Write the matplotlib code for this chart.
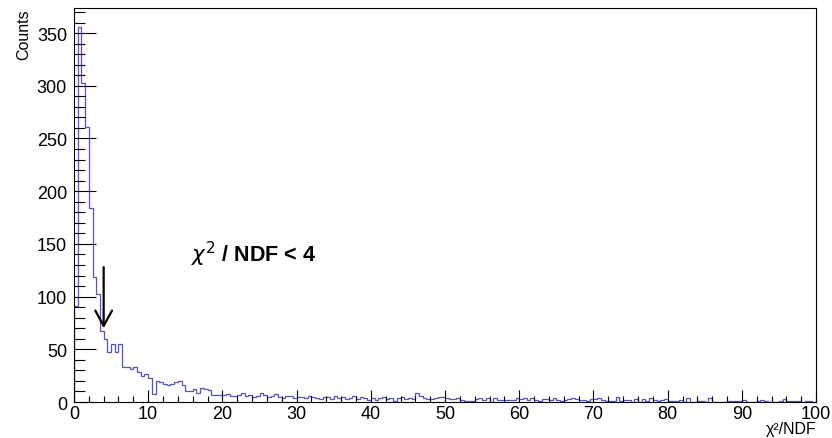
import numpy as np
import matplotlib
matplotlib.use('AGG')
import matplotlib.pyplot as plt

plt.rcParams['font.family'] = ['Liberation Sans', 'DejaVu Sans']
plt.rcParams['mathtext.fontset'] = 'dejavusans'

# chi2/NDF histogram, 200 bins from 0 to 100 (bin width 0.5)
x_min, x_max, n_bins = 0, 100, 200
counts = [
    # 0 - 10
    91, 356, 303, 261, 184, 119, 102, 67, 60, 47, 55, 47, 55, 33, 33, 31, 33, 28, 25, 27,
    # 10 - 20
    23, 8, 20, 19, 17, 16, 17, 19, 20, 16, 10, 10, 12, 9, 13, 12, 11, 7, 7, 7,
    # 20 - 30
    7, 8, 6, 6, 7, 9, 6, 7, 5, 6, 9, 7, 5, 6, 8, 5, 4, 6, 6, 4,
    # 30 - 40
    5, 5, 4, 6, 5, 4, 3, 5, 5, 3, 6, 4, 5, 3, 4, 6, 3, 5, 4, 2,
    # 40 - 50
    4, 2, 4, 5, 3, 4, 1, 4, 5, 3, 4, 3, 9, 6, 4, 3, 3, 4, 5, 5,
    # 50 - 60
    4, 3, 3, 4, 2, 1, 1, 1, 3, 4, 2, 4, 0, 4, 2, 2, 2, 2, 2, 4,
    # 60 - 70
    3, 4, 2, 4, 2, 1, 3, 3, 2, 4, 2, 1, 2, 3, 4, 3, 2, 2, 1, 3,
    # 70 - 80
    3, 4, 2, 1, 1, 1, 5, 1, 2, 2, 0, 3, 0, 3, 1, 4, 2, 1, 2, 3,
    # 80 - 90
    1, 1, 1, 2, 0, 4, 0, 0, 1, 1, 0, 4, 0, 0, 0, 0, 1, 1, 1, 1,
    # 90 - 100
    2, 0, 0, 0, 1, 2, 1, 0, 0, 0, 1, 3, 1, 1, 1, 1, 0, 1, 1, 0,
]
x_ticks = [0, 10, 20, 30, 40, 50, 60, 70, 80, 90, 100]
y_ticks = [0, 50, 100, 150, 200, 250, 300, 350]
cut_value = 4
arrow_top, arrow_tip = 128, 70

edges = np.linspace(x_min, x_max, n_bins + 1)
y_max = 1.05 * max(counts)

fig = plt.figure(figsize=(8.32, 4.39), dpi=100)
ax = fig.add_axes([0.0889, 0.082, 0.892, 0.8975])

ax.stairs(counts, edges, color='#5252cc', linewidth=0.9)

ax.set_xlim(x_min, x_max)
ax.set_ylim(0, y_max)
ax.set_xticks(x_ticks)
ax.set_xticks(np.arange(0, 101, 2), minor=True)
ax.set_yticks(y_ticks)
ax.set_yticks(np.arange(0, 371, 10), minor=True)

ax.tick_params(axis='x', which='major', direction='in', length=8.6, width=0.8, labelsize=13, pad=2)
ax.tick_params(axis='x', which='minor', direction='in', length=4.3, width=0.8)
ax.tick_params(axis='y', which='major', direction='in', length=15.8, width=0.8, labelsize=13, pad=5)
ax.tick_params(axis='y', which='minor', direction='in', length=8, width=0.8)
for s in ax.spines.values():
    s.set_linewidth(0.8)

ax.set_ylabel('Counts', fontsize=11.5)
ax.yaxis.set_label_coords(-0.058, 1.0)
ax.yaxis.label.set_horizontalalignment('right')
ax.set_xlabel('χ²/NDF', fontsize=11.5)
ax.xaxis.set_label_coords(1.0, -0.049)
ax.xaxis.label.set_horizontalalignment('right')

ax.annotate('', xy=(cut_value, arrow_tip), xytext=(cut_value, arrow_top),
            arrowprops=dict(arrowstyle='->, head_length=1.1, head_width=0.6',
                            color='black', lw=1.6, shrinkA=0, shrinkB=0))
ax.text(15.8, 141, r'$\chi^{2}$ / NDF < 4', fontsize=15.5, fontweight='bold', ha='left', va='center')

plt.savefig('out.png', dpi=100)
